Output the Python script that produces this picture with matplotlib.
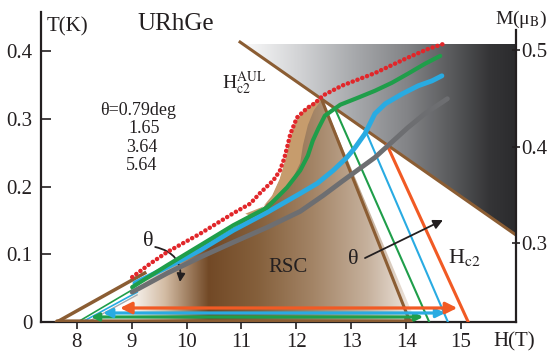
import numpy as np
import matplotlib
matplotlib.use('Agg')
import matplotlib.pyplot as plt
from matplotlib.colors import LinearSegmentedColormap
from matplotlib.patches import Polygon, FancyArrowPatch

plt.rcParams['font.family'] = ['Liberation Serif', 'DejaVu Serif']
plt.rcParams['mathtext.fontset'] = 'stix'

# magnetization curves M(H) (right axis, mu_B)
red_H = [9.01, 9.34, 9.65, 10.25, 10.85, 11.16, 11.34, 11.58, 11.70, 11.78, 11.83,
         11.89, 12.01, 12.20, 12.34, 12.49, 12.83, 13.43, 14.03, 14.40, 14.67]
red_M = [0.265, 0.279, 0.291, 0.310, 0.331, 0.341, 0.352, 0.365, 0.375, 0.388, 0.399,
         0.413, 0.430, 0.440, 0.445, 0.453, 0.463, 0.476, 0.492, 0.501, 0.506]
green_H = [9.01, 9.65, 10.25, 10.85, 11.47, 11.83, 12.07, 12.21, 12.30, 12.40, 12.52,
           12.80, 13.12, 13.43, 13.74, 14.03, 14.34, 14.62]
green_M = [0.2546, 0.2773, 0.2979, 0.3186, 0.3371, 0.3577, 0.3753, 0.3907, 0.4062, 0.4186,
           0.4320, 0.4433, 0.4505, 0.4577, 0.4660, 0.4753, 0.4856, 0.4938]
blue_H = [9.06, 9.65, 10.25, 10.85, 11.47, 12.07, 12.38, 12.67, 12.92, 13.07, 13.25,
          13.43, 13.62, 13.93, 14.22, 14.47, 14.65]
blue_M = [0.2588, 0.2753, 0.2928, 0.3134, 0.3320, 0.3515, 0.3619, 0.3753, 0.3887, 0.3990,
          0.4134, 0.4340, 0.4443, 0.4546, 0.4629, 0.4680, 0.4732]
gray_H = [9.01, 9.65, 10.25, 10.85, 11.47, 12.07, 12.49, 12.83, 13.43, 14.03, 14.34, 14.75]
gray_M = [0.2495, 0.2691, 0.2856, 0.3010, 0.3165, 0.3330, 0.3495, 0.3639, 0.3887, 0.4196,
          0.4340, 0.4495]

# Hc2 lines (left axis, K)
aul_H = [10.975, 16.0]
aul_T = [0.4136, 0.1285]
hc2_top_H = [12.46, 12.70, 13.25, 13.65]     # brown, green, blue, orange
hc2_top_T = [0.329, 0.3157, 0.2845, 0.2618]
hc2_bot_H = [14.07, 14.42, 14.76, 15.13]
low_bot_H = [7.64, 8.02, 8.10, 8.20]         # brown, green, blue, gray
low_top_H = [9.24, 9.00, 9.10, 9.10]
low_top_T = [0.0724, 0.047, 0.044, 0.040]
arrow_T = [0.0015, 0.0074, 0.0133, 0.0207]   # brown, green, blue, orange
arrow_left = [7.64, 8.26, 8.48, 8.79]
arrow_right = [14.16, 14.31, 14.71, 14.93]

# RSC region outline
rsc_H = [8.15, 9.03, 9.65, 10.25, 10.85, 11.16, 11.38, 11.56, 11.70, 11.79, 11.89,
         11.99, 12.16, 12.32, 12.47, 14.18]
rsc_T = [0.0, 0.047, 0.083, 0.111, 0.139, 0.155, 0.167, 0.185, 0.210, 0.235, 0.269,
         0.295, 0.313, 0.323, 0.329, 0.0]
tan_H = [11.07, 11.16, 11.38, 11.56, 11.70, 11.79, 11.89, 11.99, 12.16, 12.32, 12.47,
         12.32, 12.21, 12.12, 12.07, 11.92, 11.70, 11.38]
tan_T = [0.160, 0.157, 0.169, 0.187, 0.212, 0.237, 0.271, 0.297, 0.315, 0.325, 0.329,
         0.313, 0.291, 0.261, 0.235, 0.210, 0.188, 0.170]

BROWN = '#8b5d33'
GREEN = '#1f9e4a'
BLUE = '#29abe2'
ORANGE = '#f15a24'
GRAY = '#6d6e71'
RED = '#e1262a'


def hgrad(ax, verts, x0, x1, stops, zorder):
    poly = Polygon(verts, closed=True, facecolor='none', edgecolor='none')
    ax.add_patch(poly)
    cmap = LinearSegmentedColormap.from_list(
        'g', [((p - x0) / (x1 - x0), c) for p, c in stops])
    ys = [v[1] for v in verts]
    im = ax.imshow(np.linspace(0, 1, 512).reshape(1, -1), cmap=cmap, aspect='auto',
                   extent=[x0, x1, min(ys), max(ys)], origin='lower', zorder=zorder,
                   interpolation='bilinear')
    im.set_clip_path(poly)


def main():
    fig = plt.figure(figsize=(5.5, 3.58), dpi=100)
    ax = fig.add_axes([41 / 550, 36 / 358, 475 / 550, 310 / 358])
    xlim = (7.35, 16.0)
    ylim = (0, 0.458)

    # magnetization background
    hgrad(ax, [(aul_H[0], 0.411), (16.0, 0.411), (16.0, aul_T[1])], 10.9, 16.0,
          [(10.9, '#ffffff'), (12.0, '#d4d5d7'), (13.0, '#a9abae'), (14.0, '#838487'),
           (14.8, '#5a5b5d'), (15.5, '#353537'), (16.0, '#2b2b2d')], 1)

    # RSC region
    hgrad(ax, list(zip(rsc_H, rsc_T)), 8.9, 14.3,
          [(8.9, '#ffffff'), (9.6, '#d3bca4'), (10.4, '#724926'), (11.3, '#85603c'),
           (12.3, '#a38466'), (13.3, '#c6b19d'), (14.0, '#e9dfd6'), (14.3, '#ffffff')], 1)
    ax.add_patch(Polygon(list(zip(tan_H, tan_T)), closed=True, facecolor='#c69c6d',
                         edgecolor='none', zorder=2))

    # Hc2 lines
    ax.plot(aul_H, aul_T, color=BROWN, lw=2.2, zorder=3)
    for (ht, tt, hb, c, lw) in zip(hc2_top_H, hc2_top_T, hc2_bot_H,
                                   [BROWN, GREEN, BLUE, ORANGE], [2.2, 1.5, 1.5, 2.2]):
        ax.plot([ht, hb], [tt, 0], color=c, lw=lw, zorder=3)
    for (hb, ht, tt, c, lw) in zip(low_bot_H, low_top_H, low_top_T,
                                   [BROWN, GREEN, BLUE, '#a7a9ac'], [2.5, 1.2, 1.2, 1.0]):
        ax.plot([hb, ht], [0, tt], color=c, lw=lw, zorder=3)

    # horizontal field-sweep arrows
    styles = ['-|>', '<|-|>', '<|-|>', '<|-|>']
    scales = [10, 11, 13, 17]
    for t, hl, hr, c, st, ms in zip(arrow_T, arrow_left, arrow_right,
                                    [BROWN, GREEN, BLUE, ORANGE], styles, scales):
        ax.add_patch(FancyArrowPatch((hl, t), (hr, t), arrowstyle=st, color=c, lw=2.3,
                                     mutation_scale=ms, shrinkA=0, shrinkB=0, zorder=4))

    # theta arrows
    ax.add_patch(FancyArrowPatch((9.43, 0.1108), (9.88, 0.0591), arrowstyle='-|>',
                                 connectionstyle='arc3,rad=-0.45', color='#231f20', lw=1.3,
                                 mutation_scale=12, shrinkA=0, shrinkB=0, zorder=5))
    ax.add_patch(FancyArrowPatch((13.25, 0.0945), (14.67, 0.1506), arrowstyle='-|>',
                                 color='#231f20', lw=1.3, mutation_scale=14,
                                 shrinkA=0, shrinkB=0, zorder=5))

    ax.set_xlim(*xlim)
    ax.set_ylim(*ylim)
    ax.set_xticks(range(8, 16))
    ax.set_xticklabels([str(v) for v in range(8, 16)])
    ax.set_yticks([0, 0.1, 0.2, 0.3, 0.4])
    ax.set_yticklabels(['0', '0.1', '0.2', '0.3', '0.4'])
    ax.tick_params(axis='x', direction='out', length=5, width=1.2, labelsize=15, pad=3,
                   colors='#231f20')
    ax.tick_params(axis='y', direction='in', length=7, width=1.2, labelsize=15, pad=6,
                   colors='#231f20')
    for s in ['top', 'right']:
        ax.spines[s].set_visible(False)
    for s in ['left', 'bottom']:
        ax.spines[s].set_linewidth(1.6)
        ax.spines[s].set_color('#231f20')

    # magnetization axis
    ax2 = ax.twinx()
    ax2.plot(gray_H, gray_M, color=GRAY, lw=3.5, solid_capstyle='round', zorder=3)
    ax2.plot(blue_H, blue_M, color=BLUE, lw=3.5, solid_capstyle='round', zorder=4)
    ax2.plot(green_H, green_M, color=GREEN, lw=3.0, solid_capstyle='round', zorder=5)
    ax2.plot(red_H, red_M, color=RED, lw=3.2, linestyle=(0, (0.05, 1.1)),
             dash_capstyle='round', zorder=6)
    ax2.set_ylim(0.2186, 0.5392)
    ax2.set_yticks([0.3, 0.4, 0.5])
    ax2.set_yticklabels(['0.3', '0.4', '0.5'])
    ax2.tick_params(axis='y', direction='inout', length=6, width=1.2, labelsize=15, pad=1,
                    colors='#231f20')
    for s in ['top', 'left', 'bottom']:
        ax2.spines[s].set_visible(False)
    ax2.spines['right'].set_bounds(0.2186, 0.5206)
    ax2.spines['right'].set_linewidth(1.6)
    ax2.spines['right'].set_color('#231f20')

    # labels
    def t(x, y, s, size, ha='left'):
        fig.text(x / 550, 1 - y / 358, s, fontsize=size, ha=ha, va='center',
                 color='#231f20')

    t(47, 27, 'T(K)', 15)
    t(137, 24, 'URhGe', 18)
    t(493, 342, 'H(T)', 15)
    t(547, 19, 'M(μ$_\\mathrm{B}$)', 14, ha='right')
    t(222, 83, 'H$_\\mathrm{c2}^\\mathrm{AUL}$', 14)
    t(100, 110, 'θ=0.79deg', 13)
    t(128, 128, '1.65', 13)
    t(126, 147, '3.64', 13)
    t(126, 165, '5.64', 13)
    t(268, 267, 'RSC', 15)
    t(148, 242, 'θ', 16, ha='center')
    t(353, 260, 'θ', 16, ha='center')
    t(448, 258, 'H$_\\mathrm{c2}$', 16)

    fig.savefig('out.png', dpi=100)


if __name__ == '__main__':
    main()
